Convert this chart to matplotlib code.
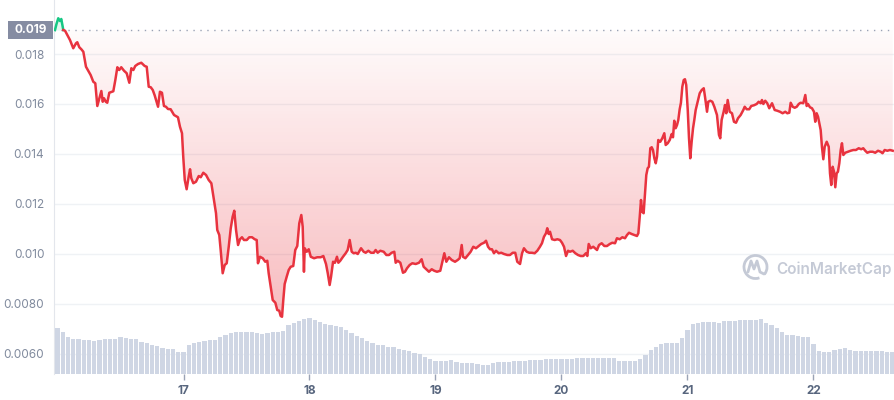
import matplotlib.pyplot as plt
import numpy as np
from matplotlib.colors import LinearSegmentedColormap
from matplotlib.patches import Rectangle, Arc
from matplotlib.path import Path
from matplotlib.transforms import IdentityTransform
from matplotlib.lines import Line2D

plt.rcParams['font.family'] = ['Inter', 'DejaVu Sans']

# price line: day of month (fractional) and price in USD
days = [
    15.980, 15.992, 16.006, 16.020, 16.030, 16.046, 16.060, 16.078, 16.099, 16.125,
    16.147, 16.157, 16.173, 16.189, 16.205, 16.226, 16.263, 16.284, 16.300, 16.316,
    16.329, 16.348, 16.359, 16.369, 16.383, 16.395, 16.411, 16.443, 16.459, 16.475,
    16.490, 16.506, 16.528, 16.549, 16.570, 16.586, 16.602, 16.617, 16.639, 16.665,
    16.692, 16.708, 16.724, 16.740, 16.756, 16.771, 16.798, 16.813, 16.829, 16.845,
    16.861, 16.877, 16.898, 16.925, 16.956, 16.972, 16.988, 16.998, 17.010, 17.025,
    17.041, 17.052, 17.062, 17.078, 17.099, 17.121, 17.137, 17.157, 17.179, 17.200,
    17.221, 17.242, 17.258, 17.268, 17.284, 17.295, 17.311, 17.327, 17.343, 17.359,
    17.375, 17.390, 17.403, 17.417, 17.433, 17.448, 17.464, 17.480, 17.502, 17.522,
    17.544, 17.565, 17.581, 17.591, 17.607, 17.629, 17.649, 17.665, 17.676, 17.692,
    17.708, 17.729, 17.744, 17.760, 17.771, 17.782, 17.792, 17.803, 17.819, 17.835,
    17.851, 17.871, 17.887, 17.903, 17.919, 17.935, 17.946, 17.956, 17.962, 17.978,
    17.994, 18.010, 18.036, 18.062, 18.089, 18.110, 18.131, 18.145, 18.160, 18.171,
    18.187, 18.202, 18.218, 18.229, 18.244, 18.266, 18.287, 18.303, 18.319, 18.335,
    18.351, 18.367, 18.383, 18.409, 18.430, 18.446, 18.467, 18.488, 18.510, 18.525,
    18.541, 18.562, 18.589, 18.610, 18.631, 18.652, 18.673, 18.684, 18.700, 18.721,
    18.742, 18.758, 18.774, 18.795, 18.816, 18.843, 18.869, 18.890, 18.906, 18.927,
    18.948, 18.970, 18.990, 19.012, 19.038, 19.054, 19.070, 19.086, 19.107, 19.129,
    19.155, 19.176, 19.192, 19.208, 19.218, 19.237, 19.258, 19.279, 19.300, 19.321,
    19.343, 19.363, 19.385, 19.401, 19.417, 19.433, 19.448, 19.464, 19.480, 19.502,
    19.522, 19.544, 19.570, 19.591, 19.613, 19.633, 19.649, 19.671, 19.687, 19.702,
    19.724, 19.744, 19.766, 19.787, 19.808, 19.829, 19.845, 19.861, 19.877, 19.887,
    19.898, 19.909, 19.925, 19.946, 19.967, 19.988, 20.004, 20.020, 20.036, 20.052,
    20.067, 20.089, 20.110, 20.131, 20.152, 20.173, 20.194, 20.205, 20.216, 20.232,
    20.252, 20.282, 20.298, 20.319, 20.340, 20.361, 20.383, 20.403, 20.425, 20.440,
    20.462, 20.483, 20.504, 20.520, 20.536, 20.557, 20.578, 20.599, 20.610, 20.621,
    20.631, 20.641, 20.652, 20.663, 20.673, 20.684, 20.694, 20.705, 20.716, 20.726,
    20.737, 20.748, 20.758, 20.768, 20.784, 20.800, 20.816, 20.827, 20.843, 20.859,
    20.875, 20.885, 20.895, 20.906, 20.917, 20.927, 20.938, 20.948, 20.959, 20.970,
    20.980, 20.990, 21.002, 21.012, 21.022, 21.033, 21.044, 21.054, 21.065, 21.081,
    21.097, 21.113, 21.129, 21.139, 21.155, 21.165, 21.181, 21.197, 21.213, 21.234,
    21.250, 21.260, 21.271, 21.287, 21.298, 21.308, 21.319, 21.335, 21.353, 21.369,
    21.385, 21.401, 21.422, 21.443, 21.454, 21.470, 21.490, 21.506, 21.528, 21.549,
    21.565, 21.581, 21.591, 21.602, 21.617, 21.633, 21.649, 21.671, 21.692, 21.713,
    21.734, 21.755, 21.776, 21.792, 21.808, 21.819, 21.835, 21.851, 21.867, 21.883,
    21.898, 21.919, 21.935, 21.946, 21.956, 21.972, 21.988, 22.004, 22.014, 22.025,
    22.036, 22.046, 22.057, 22.067, 22.078, 22.089, 22.105, 22.121, 22.131, 22.141,
    22.152, 22.163, 22.173, 22.184, 22.194, 22.205, 22.216, 22.226, 22.237, 22.252,
    22.274, 22.295, 22.316, 22.337, 22.359, 22.379, 22.395, 22.411, 22.427, 22.448,
    22.470, 22.490, 22.512, 22.533, 22.548, 22.565, 22.586, 22.607, 22.629,
]
prices = [
    0.01896, 0.01920, 0.01943, 0.01932, 0.01940, 0.01896, 0.01893, 0.01876, 0.01856, 0.01823,
    0.01843, 0.01847, 0.01827, 0.01819, 0.01809, 0.01749, 0.01716, 0.01689, 0.01683, 0.01592,
    0.01616, 0.01652, 0.01609, 0.01623, 0.01609, 0.01605, 0.01645, 0.01651, 0.01696, 0.01747,
    0.01736, 0.01747, 0.01733, 0.01723, 0.01685, 0.01743, 0.01736, 0.01752, 0.01760, 0.01765,
    0.01752, 0.01749, 0.01669, 0.01667, 0.01656, 0.01635, 0.01589, 0.01649, 0.01645, 0.01592,
    0.01589, 0.01580, 0.01579, 0.01556, 0.01547, 0.01509, 0.01483, 0.01389, 0.01296, 0.01259,
    0.01309, 0.01339, 0.01303, 0.01283, 0.01289, 0.01312, 0.01307, 0.01325, 0.01316, 0.01296,
    0.01283, 0.01216, 0.01163, 0.01096, 0.01076, 0.01016, 0.00923, 0.00956, 0.00963, 0.01029,
    0.01103, 0.01149, 0.01173, 0.01096, 0.01036, 0.01059, 0.01067, 0.01056, 0.01056, 0.01067,
    0.01067, 0.01059, 0.01056, 0.00963, 0.00989, 0.00983, 0.00969, 0.00973, 0.00923, 0.00869,
    0.00816, 0.00805, 0.00776, 0.00773, 0.00752, 0.00749, 0.00816, 0.00880, 0.00909, 0.00936,
    0.00949, 0.00952, 0.01016, 0.01032, 0.01123, 0.01156, 0.01109, 0.00929, 0.01023, 0.01009,
    0.01019, 0.00989, 0.00983, 0.00987, 0.00987, 0.00992, 0.00960, 0.00923, 0.00876, 0.00909,
    0.00969, 0.00965, 0.00989, 0.00965, 0.00973, 0.00989, 0.01003, 0.01016, 0.01056, 0.01009,
    0.01003, 0.01005, 0.01000, 0.01023, 0.01009, 0.01005, 0.01013, 0.01005, 0.01005, 0.01016,
    0.01005, 0.01013, 0.01009, 0.00996, 0.00996, 0.01005, 0.01009, 0.00965, 0.00973, 0.00965,
    0.00925, 0.00929, 0.00943, 0.00956, 0.00963, 0.00960, 0.00965, 0.00979, 0.00949, 0.00939,
    0.00929, 0.00939, 0.00933, 0.00929, 0.00933, 0.00969, 0.01003, 0.00969, 0.00987, 0.00976,
    0.00969, 0.00976, 0.00983, 0.01036, 0.00989, 0.00983, 0.00996, 0.01009, 0.01029, 0.01023,
    0.01032, 0.01040, 0.01045, 0.01053, 0.01029, 0.01019, 0.01019, 0.01003, 0.01013, 0.01003,
    0.01005, 0.01000, 0.00996, 0.00996, 0.01005, 0.01005, 0.00969, 0.00960, 0.01003, 0.01023,
    0.01009, 0.01005, 0.01005, 0.01003, 0.01013, 0.01029, 0.01043, 0.01069, 0.01083, 0.01103,
    0.01080, 0.01089, 0.01059, 0.01056, 0.01059, 0.01056, 0.01045, 0.01029, 0.00992, 0.01013,
    0.01009, 0.01013, 0.01003, 0.00996, 0.00992, 0.00992, 0.01003, 0.00992, 0.01040, 0.01023,
    0.01029, 0.01016, 0.01036, 0.01043, 0.01032, 0.01032, 0.01040, 0.01045, 0.01043, 0.01063,
    0.01059, 0.01067, 0.01063, 0.01076, 0.01085, 0.01080, 0.01076, 0.01072, 0.01083, 0.01149,
    0.01216, 0.01169, 0.01163, 0.01243, 0.01316, 0.01343, 0.01349, 0.01423, 0.01427, 0.01416,
    0.01383, 0.01363, 0.01389, 0.01456, 0.01449, 0.01463, 0.01483, 0.01436, 0.01443, 0.01456,
    0.01480, 0.01467, 0.01533, 0.01503, 0.01516, 0.01536, 0.01579, 0.01605, 0.01669, 0.01696,
    0.01699, 0.01676, 0.01576, 0.01463, 0.01383, 0.01449, 0.01503, 0.01536, 0.01576, 0.01609,
    0.01643, 0.01656, 0.01663, 0.01629, 0.01569, 0.01609, 0.01613, 0.01609, 0.01589, 0.01556,
    0.01476, 0.01463, 0.01536, 0.01569, 0.01596, 0.01563, 0.01616, 0.01569, 0.01563, 0.01529,
    0.01525, 0.01543, 0.01556, 0.01576, 0.01589, 0.01579, 0.01579, 0.01592, 0.01595, 0.01600,
    0.01609, 0.01603, 0.01616, 0.01600, 0.01613, 0.01603, 0.01583, 0.01603, 0.01576, 0.01573,
    0.01569, 0.01563, 0.01569, 0.01563, 0.01565, 0.01605, 0.01589, 0.01585, 0.01589, 0.01600,
    0.01605, 0.01603, 0.01636, 0.01592, 0.01600, 0.01587, 0.01583, 0.01569, 0.01529, 0.01563,
    0.01549, 0.01523, 0.01496, 0.01429, 0.01379, 0.01429, 0.01449, 0.01429, 0.01323, 0.01276,
    0.01349, 0.01329, 0.01267, 0.01323, 0.01329, 0.01363, 0.01416, 0.01443, 0.01396, 0.01405,
    0.01409, 0.01413, 0.01416, 0.01416, 0.01423, 0.01419, 0.01423, 0.01413, 0.01405, 0.01409,
    0.01409, 0.01405, 0.01413, 0.01409, 0.01403, 0.01416, 0.01413, 0.01416, 0.01413,
]

# hourly volume (relative units), starting 16th 00:00
volume = [
    46, 42, 37, 35, 35, 34, 34, 33, 34, 35,
    35, 35, 37, 36, 35, 35, 32, 31, 29, 28,
    26, 25, 25, 22, 22, 29, 31, 32, 33, 34,
    34, 37, 39, 41, 42, 42, 42, 42, 41, 40,
    41, 42, 42, 43, 49, 51, 53, 55, 56, 54,
    52, 50, 49, 48, 47, 44, 41, 38, 36, 33,
    31, 29, 29, 27, 27, 25, 24, 23, 21, 20,
    17, 15, 13, 13, 13, 14, 12, 11, 11, 11,
    10, 9, 9, 11, 12, 12, 12, 13, 13, 13,
    14, 14, 14, 15, 15, 15, 15, 15, 15, 16,
    16, 16, 16, 16, 16, 16, 16, 13, 13, 13,
    13, 15, 19, 24, 27, 30, 31, 31, 31, 36,
    44, 50, 51, 52, 52, 52, 51, 53, 53, 53,
    54, 54, 54, 54, 55, 51, 49, 46, 42, 39,
    39, 38, 37, 37, 30, 23, 22, 22, 24, 25,
    26, 24, 23, 23, 23, 23, 23, 23, 22, 22,
]
volume_days = 16 + np.arange(len(volume)) / 24

day_ticks = [17, 18, 19, 20, 21, 22]
price_ticks = [0.006, 0.008, 0.010, 0.012, 0.014, 0.016, 0.018]
price_labels = ['0.0060', '0.0080', '0.010', '0.012', '0.014', '0.016', '0.018']

assert len(days) == len(prices)

RED = '#e8333f'
GREEN = '#16c784'
open_price = prices[0]
days_arr = np.array(days)
prices_arr = np.array(prices)

fig = plt.figure(figsize=(8.94, 4.0), dpi=100)
ax = fig.add_axes([54 / 894, 26 / 400, 840 / 894, 374 / 400])

# volume on a twin axis so the bars sit on top of the grid
ax2 = ax.twinx()
ax2.bar(volume_days, volume, width=0.78 / 24, color='#cfd6e4', align='center', zorder=1)
ax2.set_ylim(0, 374)
ax2.set_yticks([])
for s in ax2.spines.values():
    s.set_visible(False)

# gradient fill between the line and the opening price
below = prices_arr <= open_price
fill = ax.fill_between(days_arr, prices_arr, open_price, where=below, interpolate=True,
                       color='none', lw=0)
clip = Path.make_compound_path(*fill.get_paths())
cmap = LinearSegmentedColormap.from_list(
    'redfade', [(0.918, 0.224, 0.263, 0.02), (0.918, 0.224, 0.263, 0.34)])
grad = np.linspace(0, 1, 256).reshape(-1, 1)
img = ax.imshow(grad, cmap=cmap, aspect='auto', origin='upper',
                extent=[days[0], days[-1], min(prices), open_price], zorder=2)
img.set_clip_path(clip, ax.transData)
ax.fill_between(days_arr, prices_arr, open_price, where=~below, interpolate=True,
                color=GREEN, alpha=0.12, lw=0, zorder=2)

# price line, green above the open, red below
ax.plot(days[:6], prices[:6], color=GREEN, lw=1.8, zorder=4, solid_joinstyle='round')
ax.plot(days[5:], prices[5:], color=RED, lw=1.8, zorder=4, solid_joinstyle='round')

ax.axhline(open_price, color='#9aa3b5', lw=1, ls=(0, (1, 4)), zorder=3)

ax.set_xlim(15.9722, 22.639)
ax.set_ylim(0.0052, 0.02016)

ax.set_yticks(price_ticks)
ax.set_yticklabels(price_labels)
ax.set_xticks(day_ticks)
ax.set_xticklabels([str(d) for d in day_ticks])
ax.grid(axis='y', color='#eff2f5', lw=1)
ax.set_axisbelow(True)
ax.tick_params(axis='y', length=0, pad=7, labelsize=8.5, labelcolor='#808a9d')
ax.tick_params(axis='x', length=4, width=1, color='#9aa3b5', pad=4, labelsize=8.5,
               labelcolor='#58667e')
for lbl in ax.get_xticklabels():
    lbl.set_fontweight('bold')
for side in ['top', 'right', 'bottom']:
    ax.spines[side].set_visible(False)
ax.spines['left'].set_color('#e3e6ec')

# opening price tag on the left
fig.patches.append(Rectangle((8 / 894, 1 - 39 / 400), 45 / 894, 18 / 400,
                             transform=fig.transFigure, fc='#858ca2', ec='none'))
fig.text(30.5 / 894, 1 - 30 / 400, '0.019', ha='center', va='center',
         color='white', fontsize=8.5, fontweight='bold')

# watermark
wm = '#c5cad6'
fig.add_artist(Arc((755.5, 133), 23, 23, theta1=-40, theta2=290,
                   transform=IdentityTransform(), color=wm, lw=2))
fig.add_artist(Line2D([748, 751, 754, 757, 760, 764], [128, 139, 131, 139, 128, 126],
                      transform=IdentityTransform(), color=wm, lw=2,
                      solid_joinstyle='round', solid_capstyle='round'))
fig.text(776 / 894, 1 - 269 / 400, 'CoinMarketCap', ha='left', va='center',
         fontsize=11, fontweight='semibold', color=wm)

fig.savefig('out.png', dpi=100)
